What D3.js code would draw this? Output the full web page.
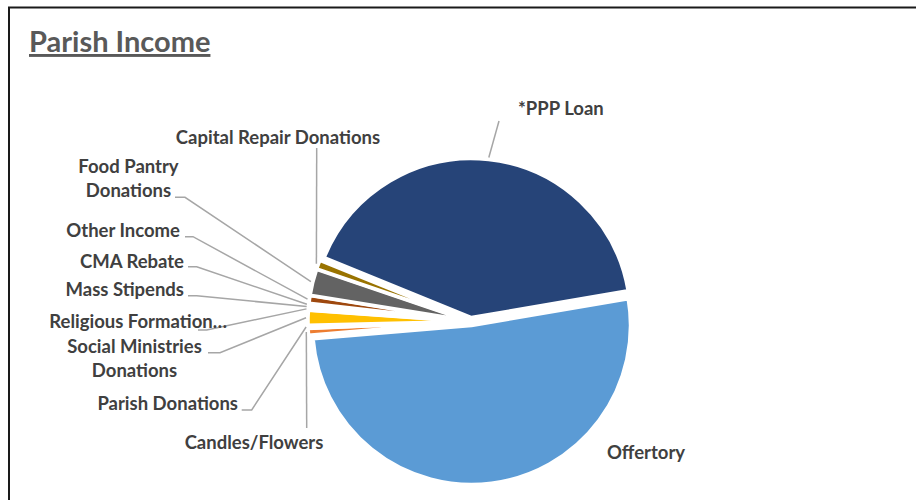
<!DOCTYPE html>
<html>
<head>
<meta charset="utf-8">
<script src="https://cdn.jsdelivr.net/npm/d3@7"></script>
<style>
  html, body { margin: 0; padding: 0; background: #fff; }
  svg { display: block; }
  text { font-family: Lato, "Open Sans", sans-serif; font-weight: bold; }
</style>
</head>
<body>
<svg id="chart" width="916" height="500"></svg>
<script>
// ---- data (share of income, %) ----
const categories = ["*PPP Loan", "Offertory", "Candles/Flowers", "Parish Donations",
  "Social Ministries Donations", "Religious Formation…", "Mass Stipends", "CMA Rebate",
  "Other Income", "Food Pantry Donations", "Capital Repair Donations"];
const values = [41.17, 51.36, 0.67, 0.28, 1.5, 0.22, 0.22, 0.22, 0.78, 2.67, 0.92];
const colors = ["#264478", "#5B9BD5", "#ED7D31", "#A5A5A5", "#FFC000", "#4472C4",
  "#70AD47", "#255E91", "#9E480E", "#636363", "#997300"];
const title = "Parish Income";

// ---- layout ----
const W = 916, H = 500;
const cx = 471, cy = 321.5, R = 159, explode = 4;
const startDeg = 292.1;
const labelLines = [["*PPP Loan"], ["Offertory"], ["Candles/Flowers"], ["Parish Donations"],
  ["Social Ministries", "Donations"], ["Religious Formation…"], ["Mass Stipends"], ["CMA Rebate"],
  ["Other Income"], ["Food Pantry", "Donations"], ["Capital Repair Donations"]];
const labelPos = [
  {x: 518, y: 115, a: "start", lead: [[499, 121]]},
  {x: 607, y: 459, a: "start", lead: null},
  {x: 254, y: 449, a: "middle", lead: [[306.7, 428]]},
  {x: 238, y: 410, a: "end", lead: [[241.7, 410], [251.7, 410]]},
  {x: 134.5, y: 353, a: "middle", lead: [[208, 352.7], [220, 352.7]]},
  {x: 227, y: 328, a: "end", lead: [[198, 330], [206.7, 330]]},
  {x: 184, y: 296, a: "end", lead: [[188, 295.7], [196.7, 295.7]]},
  {x: 184, y: 268, a: "end", lead: [[188, 266.7], [196.7, 266.7]]},
  {x: 180, y: 237, a: "end", lead: [[185, 236.7], [193, 236.7]]},
  {x: 128.5, y: 173, a: "middle", lead: [[175, 197.3], [185, 197.3]]},
  {x: 278, y: 144, a: "middle", lead: [[316.7, 148]]}
];

const svg = d3.select("#chart");
svg.append("rect").attr("width", W).attr("height", H).attr("fill", "#fff");

// frame (chart area continues beyond the picture)
svg.append("rect").attr("x", 9).attr("y", 7.5).attr("width", 1200).attr("height", 800)
  .attr("fill", "none").attr("stroke", "#1a1a1a").attr("stroke-width", 2);

// title
svg.append("text").attr("x", 29).attr("y", 52).attr("fill", "#595959")
  .attr("font-size", 29).attr("text-decoration", "underline").text(title);

const toRad = d => d * Math.PI / 180;
const pie = d3.pie().sort(null).value(d => d)
  .startAngle(toRad(startDeg)).endAngle(toRad(startDeg + 360));
const arcs = pie(values);
const arc = d3.arc().innerRadius(0).outerRadius(R);

const g = svg.append("g");
arcs.forEach((d, i) => {
  const mid = (d.startAngle + d.endAngle) / 2;
  d.ox = cx + explode * Math.sin(mid);
  d.oy = cy - explode * Math.cos(mid);
  d.mid = mid;
});

g.selectAll("path").data(arcs).join("path")
  .attr("transform", d => `translate(${d.ox},${d.oy})`)
  .attr("d", arc)
  .attr("fill", (d, i) => colors[i])
  .attr("stroke", "#fff").attr("stroke-width", 3.5).attr("stroke-linejoin", "round");

// leader lines
const line = d3.line();
arcs.forEach((d, i) => {
  const p = labelPos[i];
  if (!p.lead) return;
  const inner = [d.ox + (R + 2) * Math.sin(d.mid), d.oy - (R + 2) * Math.cos(d.mid)];
  svg.append("path").attr("d", line(p.lead.concat([inner])))
    .attr("fill", "none").attr("stroke", "#A6A6A6").attr("stroke-width", 1.5);
});

// labels
arcs.forEach((d, i) => {
  const p = labelPos[i];
  const t = svg.append("text").attr("x", p.x).attr("y", p.y)
    .attr("text-anchor", p.a).attr("fill", "#404040").attr("font-size", 18.5);
  labelLines[i].forEach((s, k) => {
    t.append("tspan").attr("x", p.x).attr("dy", k === 0 ? 0 : 24).text(s);
  });
});
</script>
</body>
</html>
